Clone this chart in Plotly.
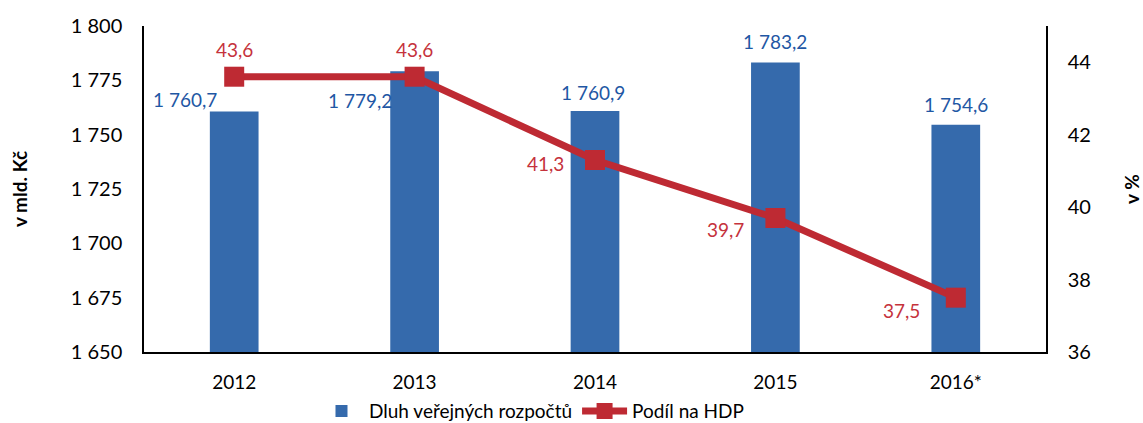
import plotly.graph_objects as go

years = ["2012", "2013", "2014", "2015", "2016*"]
debt = [1760.7, 1779.2, 1760.9, 1783.2, 1754.6]
debt_labels = ["1 760,7", "1 779,2", "1 760,9", "1 783,2", "1 754,6"]
share = [43.6, 43.6, 41.3, 39.7, 37.5]
share_labels = ["43,6", "43,6", "41,3", "39,7", "37,5"]
left_ticks = [1650, 1675, 1700, 1725, 1750, 1775, 1800]
left_tick_text = ["1 650", "1 675", "1 700", "1 725", "1 750", "1 775", "1 800"]
right_ticks = [36, 38, 40, 42, 44]

BLUE = "#356AAC"
RED = "#BE2A33"
BLUE_TXT = "#1F57A4"
RED_TXT = "#C5323C"
FONT = "Lato"

fig = go.Figure()
fig.add_trace(go.Bar(x=years, y=debt, name="Dluh veřejných rozpočtů",
                     marker=dict(color=BLUE, line=dict(width=0)), width=0.27,
                     hoverinfo="skip"))
fig.add_trace(go.Scatter(x=years, y=share, name="Podíl na HDP", yaxis="y2",
                         mode="lines+markers",
                         line=dict(color=RED, width=7),
                         marker=dict(symbol="square", size=20, color=RED),
                         hoverinfo="skip"))

# bar labels offsets (px); x given as category index
bar_off = [(-49, 12), (-55, -29), (-2, 18), (0, 21), (0, 20)]
for i, t in enumerate(debt_labels):
    dx, dy = bar_off[i]
    fig.add_annotation(x=i, y=debt[i], xref="x", yref="y", text=t, showarrow=False,
                       xshift=dx, yshift=dy,
                       font=dict(family=FONT, size=19, color=BLUE_TXT))

line_off = [(0, 27), (0, 27), (-50, -3), (-50, -12), (-54, -13)]
for i, t in enumerate(share_labels):
    dx, dy = line_off[i]
    fig.add_annotation(x=i, y=share[i], xref="x", yref="y2", text=t, showarrow=False,
                       xshift=dx, yshift=dy,
                       font=dict(family=FONT, size=19, color=RED_TXT))

fig.update_layout(
    width=1143, height=423,
    margin=dict(l=144, r=97, t=26, b=71, autoexpand=False),
    paper_bgcolor="white", plot_bgcolor="white",
    font=dict(family=FONT, size=19, color="black"),
    showlegend=True,
    legend=dict(orientation="h", x=0.465, xanchor="center", xref="container",
                y=0.028, yanchor="middle", yref="container",
                font=dict(family=FONT, size=19, color="black"),
                traceorder="normal", entrywidth=0, itemwidth=45),
    xaxis=dict(type="category", range=[-0.5, 4.5], showline=True, linecolor="black",
               linewidth=1.5, ticks="", showgrid=False, tickfont=dict(size=19),
               automargin=False, ticklabelstandoff=12),
    yaxis=dict(range=[1650, 1800], tickvals=left_ticks, ticktext=left_tick_text,
               showline=True, linecolor="black", linewidth=1.5, showgrid=False,
               zeroline=False, ticks="", tickfont=dict(size=20), automargin=False,
               ticklabelstandoff=16,
               title=dict(text="<b>v mld. Kč</b>", font=dict(size=19), standoff=38)),
    yaxis2=dict(range=[36, 45], tickvals=right_ticks, overlaying="y", side="right",
                showline=True, linecolor="black", linewidth=1.5, showgrid=False,
                zeroline=False, ticks="", tickfont=dict(size=20), automargin=False,
                ticklabelstandoff=16,
                title=dict(text="<b>v %</b>", font=dict(size=19), standoff=36)),
)

fig.write_html("out.html", config={"displayModeBar": False},
               post_script="document.body.style.margin='0';document.body.style.overflow='hidden';")
